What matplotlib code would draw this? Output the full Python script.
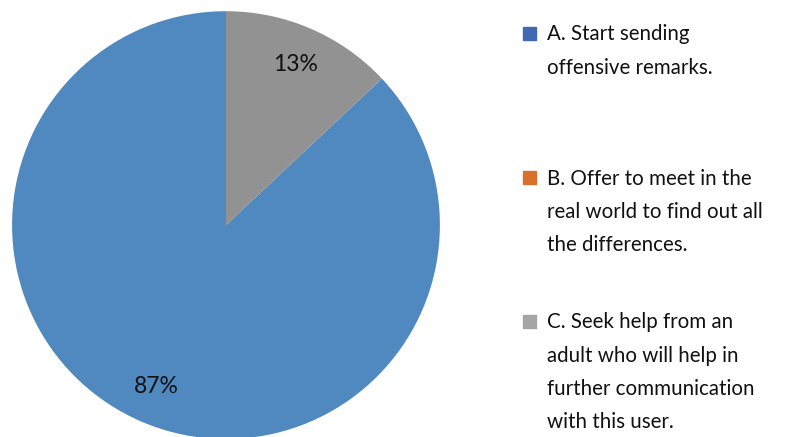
import matplotlib

matplotlib.use("Agg")
import matplotlib.pyplot as plt
from matplotlib.patches import Rectangle

plt.rcParams["font.family"] = ["Lato", "DejaVu Sans"]

# survey answers and their shares (%)
options = [
    "A. Start sending\noffensive remarks.",
    "B. Offer to meet in the\nreal world to find out all\nthe differences.",
    "C. Seek help from an\nadult who will help in\nfurther communication\nwith this user.",
]
shares = [87, 0, 13]

slice_colors = ["#4F89BF", "#E07B39", "#929292"]
key_colors = ["#4268B2", "#D9712E", "#A5A5A5"]

fig = plt.figure(figsize=(8.12, 4.37), dpi=100)
ax = fig.add_axes([0.0148, -0.0046, 0.527, 0.979])

# first slice starts so that the last one ends at 12 o'clock
start = 90 - shares[-1] / sum(shares) * 360


def pct(v):
    return f"{v:.0f}%" if v > 0.5 else ""


wedges, _, autotexts = ax.pie(
    shares, colors=slice_colors, startangle=start, counterclock=False,
    autopct=pct, pctdistance=0.82, wedgeprops=dict(linewidth=0),
    textprops=dict(fontsize=16.5, color="#111111"),
)
ax.set_aspect("equal")
ax.set_xlim(-1, 1)
ax.set_ylim(-1, 1)

# legend entries, one text block per option
tops = [0.944, 0.614, 0.285]
for label, color, top in zip(options, key_colors, tops):
    fig.patches.append(Rectangle((0.644, top - 0.036), 0.016, 0.0297,
                                 transform=fig.transFigure, color=color))
    fig.text(0.674, top, label, fontsize=14.8, va="top", ha="left",
             color="#111111", linespacing=1.82)

fig.savefig("out.png", dpi=100)
